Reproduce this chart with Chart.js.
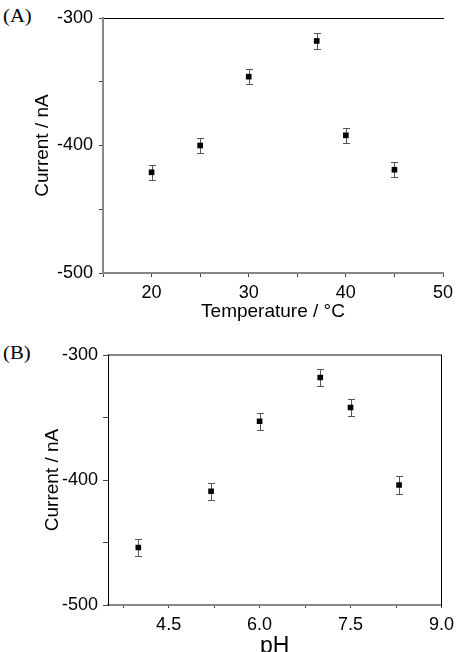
<!DOCTYPE html>
<html>
<head>
<meta charset="utf-8">
<script src="https://cdn.jsdelivr.net/npm/chart.js@4.4.0/dist/chart.umd.min.js"></script>
<style>
  html, body { margin: 0; padding: 0; background: #fff; overflow: hidden; }
  body { width: 460px; height: 652px; position: relative; }
  canvas { position: absolute; left: 0; }
  .tag {
    position: absolute; left: 3px; font-family: 'Liberation Serif', serif; font-size: 18px; color: #000;
    line-height: 1.15; transform: scaleX(1.15); transform-origin: left top;
  }
</style>
</head>
<body>
<div class="tag" style="top:6px">(A)</div>
<canvas id="tempChart" width="460" height="330" style="top:0"></canvas>
<div class="tag" style="top:343px">(B)</div>
<canvas id="phChart" width="460" height="340" style="top:322px"></canvas>
<script>
// panel A - temperature
var temps = [20, 25, 30, 37, 40, 45]
var tempCurrent = [-421, -400, -346, -318, -392, -419]
var tempErr = [6, 6, 6, 6, 6, 6]

// panel B - pH
var phs = [4.0, 5.2, 6.0, 7.0, 7.5, 8.3]
var phCurrent = [-454, -409, -353, -318, -342, -404]
var phErr = [7, 7, 7, 7, 7, 7]

// ticks
var currentTicks = [-500, -450, -400, -350, -300]
var tempTicks = [15, 20, 25, 30, 35, 40, 45, 50]
var phTicks = [3.75, 4.5, 5.25, 6.0, 6.75, 7.5, 8.25, 9.0]

var tickFont = { family: 'Liberation Sans', size: 18 }
var titleFont = { family: 'Liberation Sans', size: 19 }

// draws the vertical error bars with caps under each point
var errorBars = {
  id: 'errorBars',
  beforeDatasetsDraw(chart) {
    var ctx = chart.ctx
    var xs = chart.scales.x
    var ys = chart.scales.y
    chart.data.datasets.forEach(ds => {
      ctx.save()
      ctx.strokeStyle = '#555'
      ctx.lineWidth = 1
      ds.data.forEach((p, j) => {
        var x = Math.round(xs.getPixelForValue(p.x)) + 0.5
        var top = Math.round(ys.getPixelForValue(p.y + ds.errors[j])) + 0.5
        var bot = Math.round(ys.getPixelForValue(p.y - ds.errors[j])) + 0.5
        ctx.beginPath()
        ctx.moveTo(x, top)
        ctx.lineTo(x, bot)
        ctx.moveTo(x - 3.5, top)
        ctx.lineTo(x + 3.5, top)
        ctx.moveTo(x - 3.5, bot)
        ctx.lineTo(x + 3.5, bot)
        ctx.stroke()
      })
      ctx.restore()
    })
  },
}

function points(xs, ys) {
  return xs.map((x, i) => ({ x: x, y: ys[i] }))
}

var tempChart = new Chart(document.getElementById('tempChart'), {
  type: 'scatter',
  data: {
    datasets: [
      {
        data: points(temps, tempCurrent),
        errors: tempErr,
        pointStyle: 'rect',
        pointRadius: 4,
        pointBackgroundColor: '#000',
        pointBorderColor: '#000',
        pointBorderWidth: 0,
      },
    ],
  },
  options: {
    responsive: false,
    animation: false,
    devicePixelRatio: 1,
    layout: { padding: { top: 18, right: 17, left: 0, bottom: 0 } },
    plugins: { legend: { display: false }, tooltip: { enabled: false } },
    scales: {
      x: {
        type: 'linear',
        position: 'bottom',
        min: 15,
        max: 50,
        afterBuildTicks: s => { s.ticks = tempTicks.map(v => ({ value: v })) },
        afterFit: s => { s.height = 57 },
        grid: { drawOnChartArea: false, tickLength: 4, tickColor: '#444' },
        border: { color: '#888', width: 2 },
        ticks: {
          autoSkip: false,
          maxRotation: 0,
          padding: 5,
          color: '#000',
          font: tickFont,
          callback: v => (v % 10 === 0 ? v : ''),
        },
        title: {
          display: true,
          text: 'Temperature / °C',
          color: '#000',
          font: titleFont,
          padding: { top: 0, bottom: 7 },
        },
      },
      xTop: {
        type: 'linear',
        position: 'top',
        afterFit: s => { s.height = 0 },
        grid: { display: false },
        ticks: { display: false },
        border: { color: '#000', width: 1 },
      },
      y: {
        type: 'linear',
        position: 'left',
        min: -500,
        max: -300,
        afterBuildTicks: s => { s.ticks = currentTicks.map(v => ({ value: v })) },
        afterFit: s => { s.width = 103 },
        grid: { drawOnChartArea: false, tickLength: 4, tickColor: '#444' },
        border: { color: '#888', width: 2 },
        ticks: {
          autoSkip: false,
          padding: 6,
          color: '#000',
          font: tickFont,
          callback: v => (v % 100 === 0 ? v : ''),
        },
        title: {
          display: true,
          text: 'Current / nA',
          color: '#000',
          font: titleFont,
          padding: { top: 31, bottom: 0 },
        },
      },
    },
  },
  plugins: [errorBars],
})

var phChart = new Chart(document.getElementById('phChart'), {
  type: 'scatter',
  data: {
    datasets: [
      {
        data: points(phs, phCurrent),
        errors: phErr,
        pointStyle: 'rect',
        pointRadius: 4,
        pointBackgroundColor: '#000',
        pointBorderColor: '#000',
        pointBorderWidth: 0,
      },
    ],
  },
  options: {
    responsive: false,
    animation: false,
    devicePixelRatio: 1,
    layout: { padding: { top: 33, right: 18, left: 0, bottom: 0 } },
    plugins: { legend: { display: false }, tooltip: { enabled: false } },
    scales: {
      x: {
        type: 'linear',
        position: 'bottom',
        min: 3.5,
        max: 9.0,
        afterBuildTicks: s => { s.ticks = phTicks.map(v => ({ value: v })) },
        afterFit: s => { s.height = 57 },
        grid: { drawOnChartArea: false, tickLength: 3, tickColor: '#444' },
        border: { color: '#888', width: 2 },
        ticks: {
          autoSkip: false,
          maxRotation: 0,
          padding: 6,
          color: '#000',
          font: tickFont,
          callback: v => (Math.abs(v / 1.5 - Math.round(v / 1.5)) < 1e-6 ? v.toFixed(1) : ''),
        },
        title: {
          display: true,
          text: 'pH',
          color: '#000',
          font: { family: 'Liberation Sans', size: 23 },
          padding: { top: 0, bottom: 2 },
        },
      },
      xTop: {
        type: 'linear',
        position: 'top',
        afterFit: s => { s.height = 0 },
        grid: { display: false },
        ticks: { display: false },
        border: { color: '#888', width: 2 },
      },
      y: {
        type: 'linear',
        position: 'left',
        min: -500,
        max: -300,
        afterBuildTicks: s => { s.ticks = currentTicks.map(v => ({ value: v })) },
        afterFit: s => { s.width = 108 },
        grid: { drawOnChartArea: false, tickLength: 5, tickColor: '#444' },
        border: { color: '#000', width: 1 },
        ticks: {
          autoSkip: false,
          padding: 5,
          color: '#000',
          font: tickFont,
          callback: v => (v % 100 === 0 ? v : ''),
        },
        title: {
          display: true,
          text: 'Current / nA',
          color: '#000',
          font: titleFont,
          padding: { top: 41, bottom: 0 },
        },
      },
      yRight: {
        type: 'linear',
        position: 'right',
        afterFit: s => { s.width = 0 },
        grid: { display: false },
        ticks: { display: false },
        border: { color: '#000', width: 1 },
      },
    },
  },
  plugins: [errorBars],
})
</script>
</body>
</html>
